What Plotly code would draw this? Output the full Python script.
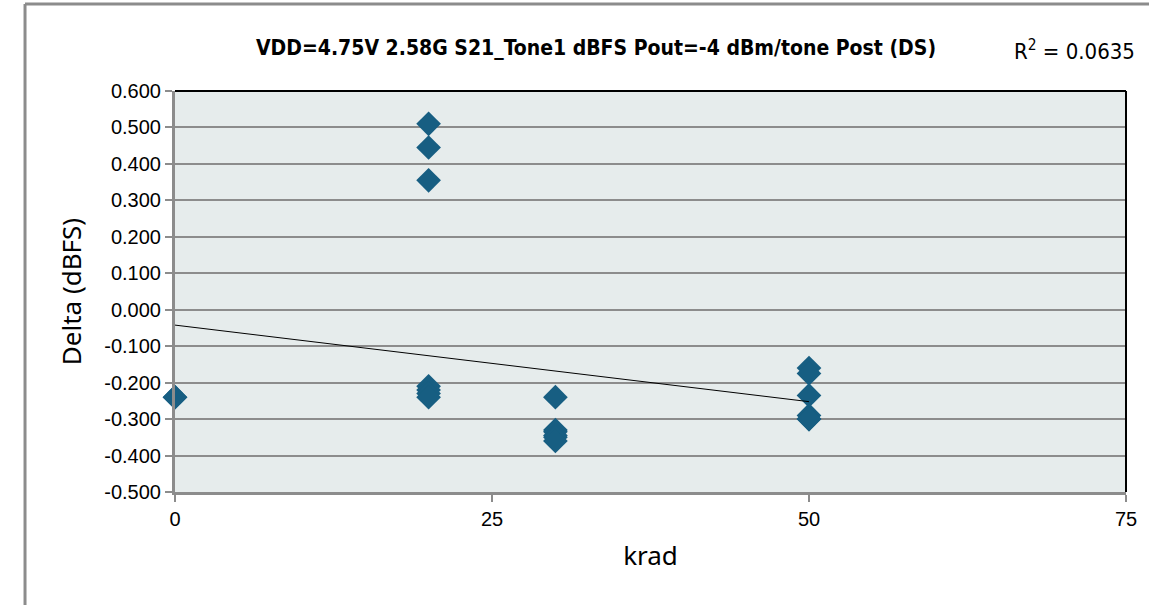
import numpy as np
import plotly.graph_objects as go

# krad dose vs delta (dBFS); some markers sit on top of each other
dose = [0, 0,
        20, 20, 20, 20, 20, 20, 20,
        30, 30, 30, 30, 30, 30,
        50, 50, 50, 50, 50, 50]
delta = [-0.240, -0.240,
         0.510, 0.445, 0.355, -0.210, -0.220, -0.230, -0.240,
         -0.240, -0.330, -0.335, -0.345, -0.350, -0.360,
         -0.160, -0.175, -0.235, -0.290, -0.300, -0.300]

y_ticks = [0.6, 0.5, 0.4, 0.3, 0.2, 0.1, 0.0, -0.1, -0.2, -0.3, -0.4, -0.5]
x_ticks = [0, 25, 50, 75]
title_text = "VDD=4.75V 2.58G S21_Tone1 dBFS Pout=-4 dBm/tone Post (DS)"
r2_text = "R<sup>2</sup> = 0.0635"

# linear trendline
slope, intercept = np.polyfit(dose, delta, 1)
trend_x = [min(dose), max(dose)]
trend_y = [slope * v + intercept for v in trend_x]

narrow = "Liberation Sans Narrow, Arial Narrow, DejaVu Sans Condensed, sans-serif"

fig = go.Figure()

fig.add_trace(go.Scatter(
    x=dose, y=delta, mode="markers",
    marker=dict(symbol="diamond", size=19, color="#175E82"),
    showlegend=False, cliponaxis=False
))

fig.add_trace(go.Scatter(
    x=trend_x, y=trend_y, mode="lines",
    line=dict(color="black", width=1),
    showlegend=False
))

fig.update_layout(
    width=1149, height=605,
    margin=dict(l=175, r=23, t=91, b=113),
    paper_bgcolor="white",
    plot_bgcolor="#E6ECEC",
    title=dict(text="<b>" + title_text + "</b>", xref="paper", x=0.4427, xanchor="center",
               y=0.9207, yanchor="middle",
               font=dict(family=narrow, size=21, color="black")),
    font=dict(family="Liberation Sans, Arial", color="black"),
)

fig.update_xaxes(
    range=[0, 75], tickvals=x_ticks, ticktext=[str(v) for v in x_ticks],
    showgrid=False, zeroline=False,
    showline=True, linecolor="#8C8C8C", linewidth=3,
    ticks="outside", ticklen=7, tickcolor="#8C8C8C", tickwidth=2,
    tickfont=dict(size=20, family="Liberation Sans, Arial"),
    title=dict(text="krad", font=dict(size=26, family="Noto Sans"), standoff=18),
)

fig.update_yaxes(
    range=[-0.5, 0.6], tickvals=y_ticks, ticktext=[f"{v:.3f}" for v in y_ticks],
    showgrid=True, gridcolor="#8C8C8C", gridwidth=2,
    zeroline=False,
    showline=True, linecolor="#8C8C8C", linewidth=3,
    ticks="outside", ticklen=7, tickcolor="#8C8C8C", tickwidth=2,
    tickfont=dict(size=20, family="Liberation Sans, Arial"),
    title=dict(text="Delta (dBFS)", font=dict(size=26, family="Noto Sans"), standoff=16),
)

# black top and right borders of plot area
fig.add_shape(type="line", xref="paper", yref="paper", x0=0, x1=1, y0=1, y1=1,
              line=dict(color="black", width=2))
fig.add_shape(type="line", xref="paper", yref="paper", x0=1, x1=1, y0=0, y1=1,
              line=dict(color="black", width=2))

# outer chart frame (left and top edges visible)
fig.add_shape(type="line", xref="paper", yref="paper",
              x0=-0.1577, x1=-0.1577, y0=-0.35, y1=1.217,
              line=dict(color="#8C8C8C", width=3))
fig.add_shape(type="line", xref="paper", yref="paper",
              x0=-0.1577, x1=1.03, y0=1.217, y1=1.217,
              line=dict(color="#8C8C8C", width=3))

fig.add_annotation(
    text=r2_text, xref="paper", yref="paper",
    x=1.0116, y=1.102, xanchor="right", yanchor="middle",
    showarrow=False, font=dict(family=narrow, size=22, color="black")
)

fig.write_html("out.html", config={"displayModeBar": False},
               post_script="document.body.style.margin='0';")
